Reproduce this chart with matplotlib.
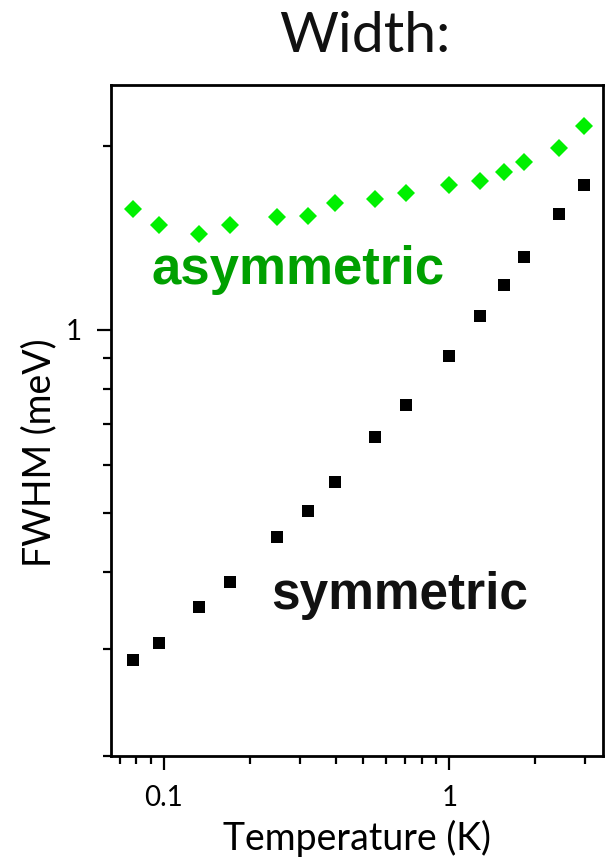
import matplotlib
matplotlib.use("Agg")
import matplotlib.pyplot as plt
from matplotlib.ticker import LogLocator, NullFormatter, FuncFormatter

# temperature (K), same set for both series
temperature = [0.078, 0.096, 0.133, 0.170, 0.250, 0.319, 0.399, 0.550, 0.707,
               1.00, 1.285, 1.556, 1.833, 2.42, 2.965]
# FWHM (meV)
fwhm_asym = [1.578, 1.488, 1.434, 1.483, 1.530, 1.536, 1.614, 1.641, 1.674,
             1.725, 1.754, 1.816, 1.882, 1.983, 2.157]
fwhm_sym = [0.287, 0.306, 0.351, 0.386, 0.457, 0.504, 0.562, 0.667, 0.752,
            0.905, 1.053, 1.184, 1.316, 1.549, 1.726]

label_font = "Lato"
bold_font = "Liberation Sans"

fig = plt.figure(figsize=(6.05, 8.58), dpi=100)
ax = fig.add_axes([0.1835, 0.1189, 0.8132, 0.7820])

ax.plot(temperature, fwhm_asym, linestyle="none", marker="D", markersize=9.5,
        color="#00f000", markeredgewidth=0)
ax.plot(temperature, fwhm_sym, linestyle="none", marker="s", markersize=8,
        color="black", markeredgewidth=0)

ax.set_xscale("log")
ax.set_yscale("log")
ax.set_xlim(0.0653, 3.457)
ax.set_ylim(0.2, 2.52)

fmt = FuncFormatter(lambda v, _: f"{v:g}")
for axis in (ax.xaxis, ax.yaxis):
    axis.set_major_locator(LogLocator(base=10))
    axis.set_minor_locator(LogLocator(base=10, subs=range(2, 10)))
    axis.set_major_formatter(fmt)
    axis.set_minor_formatter(NullFormatter())

ax.tick_params(which="major", direction="out", length=10, width=1.6, pad=11,
               labelsize=20)
ax.tick_params(which="minor", direction="out", length=6, width=1.6)
for lab in ax.get_xticklabels() + ax.get_yticklabels():
    lab.set_fontfamily(label_font)
for sp in ax.spines.values():
    sp.set_linewidth(2)

ax.set_xlabel("Temperature (K)", fontsize=27, family=label_font, va="baseline")
ax.xaxis.set_label_coords(0.5, -0.140)
ax.set_ylabel("FWHM (meV)", fontsize=27, family=label_font, va="center", ha="center")
ax.yaxis.set_label_coords(-0.146, 0.452)

ax.text(0.0827, 0.7034, "asymmetric", transform=ax.transAxes, fontsize=38,
        fontweight="bold", family=bold_font, color="#00a000", va="baseline")
ax.text(0.3266, 0.219, "symmetric", transform=ax.transAxes, fontsize=37,
        fontweight="bold", family=bold_font, color="#111111", va="baseline")

fig.text(0.603, 0.9394, "Width:", fontsize=41, family=label_font,
         color="#111111", ha="center", va="baseline")

fig.savefig("out.png", dpi=100)
